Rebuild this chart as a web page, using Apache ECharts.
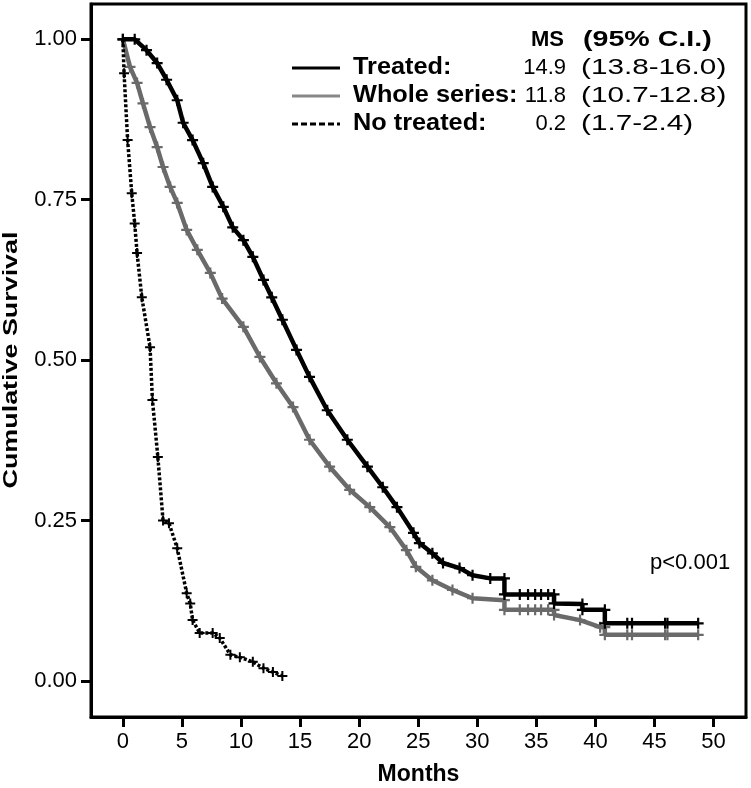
<!DOCTYPE html>
<html>
<head>
<meta charset="utf-8">
<script src="https://cdn.jsdelivr.net/npm/echarts@6/dist/echarts.min.js"></script>
<style>
html, body { margin: 0; padding: 0; background: #fff; }
#km { width: 751px; height: 788px; }
</style>
</head>
<body>
<div id="km"></div>
<script>
// axis ticks
var xTicks = [0, 5, 10, 15, 20, 25, 30, 35, 40, 45, 50];
var yTicks = [0, 0.25, 0.5, 0.75, 1];

// Treated (months, cumulative survival)
var treatedT = [0, 1.0, 2.0, 2.9, 3.7, 4.6, 5.1, 5.9, 6.8, 7.6, 8.5, 9.3, 10.2, 11.0, 11.9, 12.6, 13.5, 14.7, 15.8, 17.3, 19.0, 20.7, 22.0, 23.2, 24.6, 25.1, 26.2, 27.1, 28.5, 29.6, 31.1, 32.3, 32.3, 33.6, 34.3, 34.9, 35.4, 36.0, 36.5, 36.5, 38.9, 38.9, 40.8, 40.8, 42.7, 43.1, 45.9, 46.1, 48.7];
var treatedS = [1.0, 1.0, 0.983, 0.963, 0.937, 0.905, 0.870, 0.843, 0.807, 0.770, 0.739, 0.707, 0.687, 0.661, 0.625, 0.598, 0.563, 0.516, 0.474, 0.422, 0.376, 0.334, 0.302, 0.271, 0.231, 0.215, 0.199, 0.184, 0.176, 0.165, 0.160, 0.160, 0.135, 0.135, 0.135, 0.135, 0.135, 0.135, 0.135, 0.121, 0.120, 0.111, 0.111, 0.090, 0.090, 0.090, 0.090, 0.090, 0.090];

// Whole series
var wholeT = [0, 0.6, 1.2, 1.7, 2.3, 2.9, 3.4, 4.0, 4.6, 5.4, 6.3, 7.4, 8.4, 10.2, 11.6, 13.0, 14.4, 15.8, 17.5, 19.2, 20.9, 22.6, 24.0, 24.8, 26.2, 27.9, 29.6, 32.3, 32.3, 33.6, 34.3, 34.9, 35.4, 36.0, 36.5, 36.5, 38.7, 40.4, 40.8, 40.8, 42.7, 43.1, 45.9, 46.1, 48.7];
var wholeS = [1.0, 0.957, 0.932, 0.900, 0.863, 0.832, 0.801, 0.770, 0.745, 0.703, 0.672, 0.636, 0.596, 0.552, 0.505, 0.464, 0.427, 0.376, 0.334, 0.298, 0.271, 0.240, 0.204, 0.178, 0.157, 0.142, 0.129, 0.126, 0.111, 0.111, 0.111, 0.111, 0.111, 0.111, 0.111, 0.103, 0.095, 0.084, 0.084, 0.072, 0.072, 0.072, 0.072, 0.072, 0.072];

// No treated
var noTreatT = [0, 0.1, 0.4, 0.75, 1.0, 1.2, 1.6, 2.3, 2.5, 2.96, 3.4, 3.9, 4.6, 5.4, 5.7, 5.9, 6.5, 7.6, 8.2, 9.1, 9.9, 11.0, 11.9, 12.7, 13.5];
var noTreatS = [1.0, 0.947, 0.843, 0.760, 0.713, 0.667, 0.598, 0.520, 0.438, 0.349, 0.250, 0.246, 0.207, 0.137, 0.121, 0.095, 0.075, 0.075, 0.067, 0.041, 0.037, 0.030, 0.020, 0.014, 0.008];

// legend table
var legendNames = ['Treated:', 'Whole series:', 'No treated:'];
var msValues = ['14.9', '11.8', '0.2'];
var ciValues = ['(13.8-16.0)', '(10.7-12.8)', '(1.7-2.4)'];
var pText = 'p<0.001';
var yTitle = 'Cumulative Survival';

var FONT = '"Liberation Sans", Arial, Helvetica, sans-serif';
var plus = 'path://M4,0H6V4H10V6H6V10H4V6H0V4H4Z';

function zip(a, b) {
    var out = [];
    for (var i = 0; i < a.length; i++) out.push([a[i], b[i]]);
    return out;
}

function txt(x, y, s, font, align, sx) {
    return {
        type: 'text', x: x, y: y, scaleX: sx || 1,
        style: { text: s, font: font, fill: '#000', textAlign: align, textVerticalAlign: 'middle' }
    };
}

var curveColors = ['#000', '#6a6a6a', '#000'];

var graphics = [
    txt(564, 40, 'MS', 'bold 22px ' + FONT, 'right'),
    txt(583, 40, '(95% C.I.)', 'bold 22px ' + FONT, 'left', 1.3),
    txt(650, 563, pText, '22px ' + FONT, 'left')
];
var yLabel = txt(11, 360, yTitle, 'bold 21px ' + FONT, 'center', 1.28);
yLabel.rotation = Math.PI / 2;
graphics.push(yLabel);

for (var i = 0; i < legendNames.length; i++) {
    var y = 68 + 28 * i;
    graphics.push({
        type: 'line', shape: { x1: 292, y1: y, x2: 340, y2: y },
        style: { stroke: i === 1 ? '#888' : '#000', lineWidth: 3, lineDash: i === 2 ? [6, 3] : null }
    });
    graphics.push(txt(353, y, legendNames[i], 'bold 23px ' + FONT, 'left', 1.1));
    graphics.push(txt(566, y, msValues[i], '22px ' + FONT, 'right'));
    graphics.push(txt(581, y, ciValues[i], '22px ' + FONT, 'left', 1.35));
}

var chart = echarts.init(document.getElementById('km'));

chart.setOption({
    animation: false,
    backgroundColor: '#fff',
    grid: {
        left: 91, top: 4, width: 655, height: 713,
        outerBoundsMode: 'none', containLabel: false,
        show: true, borderColor: '#000', borderWidth: 3
    },
    xAxis: {
        type: 'value', min: -2.7, max: 52.75,
        splitLine: { show: false },
        axisLine: { show: true, onZero: false, lineStyle: { color: '#000', width: 3 } },
        axisTick: { show: true, customValues: xTicks, length: 10, lineStyle: { color: '#000', width: 3 } },
        axisLabel: { customValues: xTicks, color: '#000', fontSize: 22, fontFamily: FONT, margin: 14 },
        name: 'Months', nameLocation: 'middle', nameGap: 46,
        nameTextStyle: { color: '#000', fontSize: 23, fontWeight: 'bold', fontFamily: FONT }
    },
    yAxis: {
        type: 'value', min: -0.056, max: 1.055,
        splitLine: { show: false },
        axisLine: { show: true, onZero: false, lineStyle: { color: '#000', width: 3 } },
        axisTick: { show: true, customValues: yTicks, length: 10, lineStyle: { color: '#000', width: 3 } },
        axisLabel: {
            customValues: yTicks, color: '#000', fontSize: 22, fontFamily: FONT, margin: 14,
            formatter: function (v) { return v.toFixed(2); }
        }
    },
    graphic: graphics,
    series: [
        {
            name: 'Whole series', type: 'line', data: zip(wholeT, wholeS),
            symbol: plus, symbolSize: 11, showSymbol: true,
            lineStyle: { color: curveColors[1], width: 4.5 },
            itemStyle: { color: curveColors[1] }, z: 2
        },
        {
            name: 'Treated', type: 'line', data: zip(treatedT, treatedS),
            symbol: plus, symbolSize: 11, showSymbol: true,
            lineStyle: { color: curveColors[0], width: 4.5 },
            itemStyle: { color: curveColors[0] }, z: 3
        },
        {
            name: 'No treated', type: 'line', data: zip(noTreatT, noTreatS),
            symbol: plus, symbolSize: 10, showSymbol: true,
            lineStyle: { color: curveColors[2], width: 3.5, type: [3, 2] },
            itemStyle: { color: curveColors[2] }, z: 4
        }
    ]
});
</script>
</body>
</html>
